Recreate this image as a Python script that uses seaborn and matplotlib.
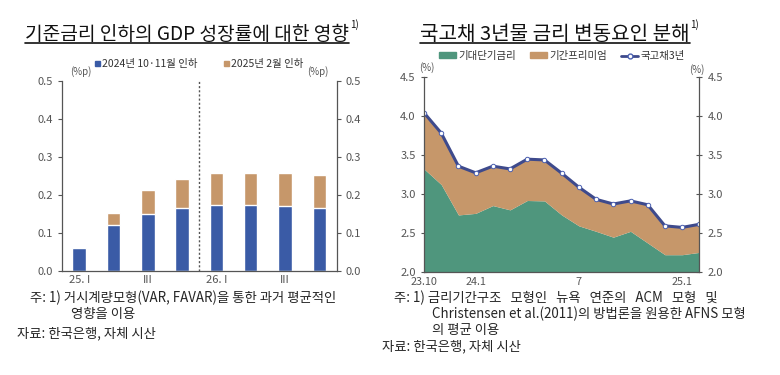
import numpy as np
import matplotlib
matplotlib.use("Agg")
import matplotlib.pyplot as plt
import seaborn as sns
from matplotlib.patches import Patch
from matplotlib.lines import Line2D

# datos del grafico izquierdo (efecto sobre el crecimiento del PIB, %p)
quarters = ['25. I', '', 'III', '', '26. I', '', 'III', '']
cut_2024 = [0.062, 0.120, 0.151, 0.167, 0.173, 0.174, 0.170, 0.167]
cut_2025 = [0.000, 0.033, 0.062, 0.076, 0.084, 0.085, 0.087, 0.085]

# datos del grafico derecho (bono del tesoro a 3 anos, %)
months = ['23.10', '', '', '24.1', '', '', '', '', '', '7', '', '', '', '', '', '25.1', '']
expected_rate = [3.32, 3.12, 2.73, 2.75, 2.85, 2.795, 2.915, 2.91, 2.73, 2.59,
                 2.52, 2.445, 2.52, 2.37, 2.22, 2.22, 2.25]
ktb_3y = [4.04, 3.78, 3.355, 3.27, 3.355, 3.32, 3.445, 3.435, 3.265, 3.085,
          2.93, 2.87, 2.91, 2.86, 2.59, 2.57, 2.61]

blue = '#3A5BA6'
tan = '#C6976A'
green = '#4F967D'
navy = '#3E4A8C'
gray = '#555555'

sns.set_style('white')
plt.rcParams['font.family'] = ['Noto Sans CJK KR', 'DejaVu Sans']

fig = plt.figure(figsize=(7.8, 3.75), dpi=100)
ax1 = fig.add_axes([0.0795, 0.277, 0.352, 0.507])
ax2 = fig.add_axes([0.5436, 0.275, 0.353, 0.520])

# --- grafico izquierdo: barras apiladas
total = np.array(cut_2024) + np.array(cut_2025)
pos = list(range(len(quarters)))
sns.barplot(x=pos, y=total, color=tan, width=0.39, saturation=1, ax=ax1)
sns.barplot(x=pos, y=cut_2024, color=blue, width=0.39, saturation=1, ax=ax1)
ax1.axvline(3.5, color='#555555', linestyle=(0, (1.5, 1.5)), linewidth=1)
ax1.set_xlim(-0.5, 7.5)
ax1.set_ylim(0, 0.5)
ax1.set_yticks(np.arange(0, 0.51, 0.1))
ax1.set_yticklabels([f'{v:.1f}' for v in np.arange(0, 0.51, 0.1)])
ax1.set_xticks(pos)
ax1.set_xticklabels(quarters)
ax1.set_xticks(np.arange(0.5, 7, 1), minor=True)
ax1.tick_params(axis='x', which='major', length=0, pad=2.5)
ax1.tick_params(axis='x', which='minor', direction='in', length=3, color=gray)
ax1.tick_params(axis='y', direction='out', length=3, color=gray,
                right=True, labelright=True, left=True)
ax1.tick_params(labelsize=8, labelcolor=gray)
ax1.text(0.03, 1.02, '(%p)', transform=ax1.transAxes, fontsize=7, color=gray, ha='left', va='bottom')
ax1.text(0.97, 1.02, '(%p)', transform=ax1.transAxes, fontsize=7, color=gray, ha='right', va='bottom')
ax1.legend(handles=[Patch(color=blue, label='2024년 10·11월 인하'),
                    Patch(color=tan, label='2025년 2월 인하')],
           loc='lower center', bbox_to_anchor=(0.5, 1.04), ncol=2, frameon=False,
           fontsize=7.5, handlelength=0.5, handleheight=0.5, handletextpad=0.2,
           columnspacing=2.5, labelcolor='#333333', borderaxespad=0)

# --- grafico derecho: areas + linea
x = np.arange(len(months))
exp_arr = np.array(expected_rate)
ktb_arr = np.array(ktb_3y)
ax2.fill_between(x, 2.0, exp_arr, color=green, linewidth=0)
ax2.fill_between(x, exp_arr, ktb_arr, color=tan, linewidth=0)
sns.lineplot(x=x, y=ktb_arr, color=navy, linewidth=2.2, marker='o', markersize=3.2,
             markerfacecolor='white', markeredgecolor='#4A5FB0', markeredgewidth=0.7, ax=ax2)
ax2.set_xlim(0, len(months) - 1)
ax2.set_ylim(2.0, 4.5)
ax2.set_yticks(np.arange(2.0, 4.51, 0.5))
ax2.set_yticklabels([f'{v:.1f}' for v in np.arange(2.0, 4.51, 0.5)])
ax2.set_xticks(x)
ax2.set_xticklabels(months)
ax2.tick_params(axis='x', direction='in', length=3, color=gray, pad=3.5, labelsize=7.8)
ax2.tick_params(axis='y', direction='inout', length=4, color=gray, pad=4, labelsize=8,
                right=True, labelright=True, left=True)
ax2.tick_params(labelcolor=gray)
ax2.text(0.01, 1.02, '(%)', transform=ax2.transAxes, fontsize=7, color=gray, ha='center', va='bottom')
ax2.text(0.99, 1.01, '(%)', transform=ax2.transAxes, fontsize=7, color=gray, ha='center', va='bottom')
ax2.legend(handles=[Patch(color=green, label='기대단기금리'),
                    Patch(color=tan, label='기간프리미엄'),
                    Line2D([], [], color=navy, linewidth=2, marker='o', markersize=3.5,
                           markerfacecolor='white', markeredgecolor='#4A5FB0', label='국고채3년')],
           loc='lower center', bbox_to_anchor=(0.5, 1.06), ncol=3, frameon=False,
           fontsize=7.5, handlelength=1.7, handleheight=0.45, handletextpad=0.2,
           columnspacing=1.3, labelcolor='#333333', borderaxespad=0)

for ax in (ax1, ax2):
    sns.despine(ax=ax, top=True, right=False)
    for s in ('left', 'right', 'bottom'):
        ax.spines[s].set_color(gray)
        ax.spines[s].set_linewidth(0.9)

# titulos subrayados
def underlined_title(xpos, ypos, text, size):
    t = fig.text(xpos, ypos, text, fontsize=size, ha='left', va='center', color='#111111')
    fig.canvas.draw()
    bb = t.get_window_extent().transformed(fig.transFigure.inverted())
    fig.text(bb.x1 + 0.001, bb.y1 - 0.004, '1)', fontsize=7, ha='left', va='center', color='#111111')
    fig.add_artist(Line2D([bb.x0, bb.x1], [bb.y0 + 0.003, bb.y0 + 0.003],
                          color='#111111', linewidth=1.2, transform=fig.transFigure))

underlined_title(25 / 780, 1 - 34 / 375, '기준금리 인하의 GDP 성장률에 대한 영향', 13.8)
underlined_title(420 / 780, 1 - 34 / 375, '국고채 3년물 금리 변동요인 분해', 14.5)

# notas al pie
fs = 9.6
fig.text(30 / 780, 1 - 298 / 375, '주: 1) 거시계량모형(VAR, FAVAR)을 통한 과거 평균적인', fontsize=fs, va='center')
fig.text(71 / 780, 1 - 314 / 375, '영향을 이용', fontsize=fs, va='center')
fig.text(17 / 780, 1 - 333 / 375, '자료: 한국은행, 자체 시산', fontsize=fs, va='center')
fig.text(394 / 780, 1 - 298 / 375, '주: 1) 금리기간구조   모형인   뉴욕   연준의   ACM   모형   및', fontsize=fs, va='center')
fig.text(432 / 780, 1 - 314 / 375, 'Christensen et al.(2011)의 방법론을 원용한 AFNS 모형', fontsize=fs, va='center')
fig.text(432 / 780, 1 - 330 / 375, '의 평균 이용', fontsize=fs, va='center')
fig.text(382 / 780, 1 - 346 / 375, '자료: 한국은행, 자체 시산', fontsize=fs, va='center')

fig.savefig('out.png', dpi=100)
